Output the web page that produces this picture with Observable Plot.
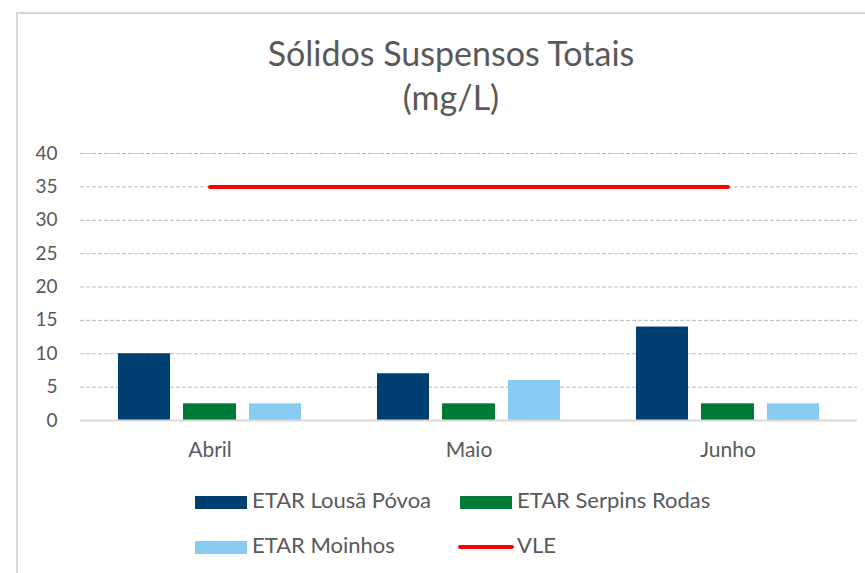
<!DOCTYPE html>
<html>
<head>
<meta charset="utf-8">
<script src="https://cdn.jsdelivr.net/npm/d3@7"></script>
<script src="https://cdn.jsdelivr.net/npm/@observablehq/plot@0.6"></script>
<style>
  body { margin: 0; background: #fff; font-family: Lato, "Open Sans", sans-serif; color: #595959; }
  #page { position: relative; width: 865px; height: 573px; overflow: hidden; }
  #frame { position: absolute; left: 16px; top: 12px; width: 860px; height: 570px;
           border-left: 2px solid #d9d9d9; border-top: 2px solid #d9d9d9; }
  #title { position: absolute; left: 0; top: 31px; width: 902px; text-align: center;
           font-size: 34px; line-height: 44px; color: #595959; }
  #chart { position: absolute; left: 0; top: 130px; }
  .sw { position: absolute; }
  .lt { position: absolute; font-size: 22px; line-height: 1.2; color: #595959; white-space: nowrap; }
</style>
</head>
<body>
<div id="page">
  <div id="frame"></div>
  <div id="title">Sólidos Suspensos Totais<br>(mg/L)</div>
  <div id="chart"></div>
  <div id="legend"></div>
</div>
<script>
// ---- data ----
const months = ["Abril", "Maio", "Junho"];
const series = ["ETAR Lousã Póvoa", "ETAR Serpins Rodas", "ETAR Moinhos"];
const lousaPovoa = [10, 7, 14];
const serpinsRodas = [2.5, 2.5, 2.5];
const moinhos = [2.5, 6, 2.5];
const vleName = "VLE";
const vle = [35, 35, 35];
const yTicks = [0, 5, 10, 15, 20, 25, 30, 35, 40];

// ---- styles ----
const colors = ["#003f6f", "#007a37", "#89cbf3"];
const vleColor = "#ff0000";
const insets = [[38, 169], [103, 103], [169, 38]];

const seriesValues = [lousaPovoa, serpinsRodas, moinhos];
const rows = months.flatMap((m, i) => series.map((s, k) => ({month: m, series: s, value: seriesValues[k][i]})));
const vleRows = months.map((m, i) => ({month: m, value: vle[i]}));

const chart = Plot.plot({
  width: 865,
  height: 340,
  marginLeft: 80,
  marginRight: 8,
  marginTop: 23,
  marginBottom: 50,
  style: {fontFamily: "Lato, 'Open Sans', sans-serif", fontSize: "19px", color: "#595959", background: "transparent"},
  x: {type: "band", domain: months, padding: 0, label: null, tickSize: 0, tickPadding: 22},
  y: {domain: [0, 40], ticks: yTicks, label: null, tickSize: 0, tickPadding: 23},
  marks: [
    Plot.ruleY(yTicks.filter(d => d > 0), {stroke: "#b8b8b8", strokeWidth: 1, strokeDasharray: "4,2"}),
    ...series.map((s, k) => Plot.barY(rows.filter(r => r.series === s), {
      x: "month", y: "value", fill: colors[k], insetLeft: insets[k][0], insetRight: insets[k][1]
    })),
    Plot.ruleY([0], {stroke: "#d9d9d9", strokeWidth: 2}),
    Plot.lineY(vleRows, {x: "month", y: "value", stroke: vleColor, strokeWidth: 4, strokeLinecap: "round"})
  ]
});
// larger category labels, as in the reference
chart.querySelectorAll("g[aria-label='x-axis tick label'] text, g[aria-label='x-axis'] text").forEach(t => t.setAttribute("font-size", "21px"));
document.getElementById("chart").appendChild(chart);

// ---- legend ----
const legend = document.getElementById("legend");
const items = [
  {label: series[0], color: colors[0], type: "rect", sx: 195, tx: 252, row: 0},
  {label: series[1], color: colors[1], type: "rect", sx: 460, tx: 517, row: 0},
  {label: series[2], color: colors[2], type: "rect", sx: 195, tx: 252, row: 1},
  {label: vleName, color: vleColor, type: "line", sx: 458, tx: 517, row: 1}
];
const rowBase = [509, 554];
for (const it of items) {
  const sw = document.createElement("div");
  sw.className = "sw";
  const base = rowBase[it.row];
  if (it.type === "rect") {
    Object.assign(sw.style, {left: it.sx + "px", top: (base - 13) + "px", width: "52px", height: "13px", background: it.color});
  } else {
    Object.assign(sw.style, {left: it.sx + "px", top: (base - 9) + "px", width: "56px", height: "4px", background: it.color, borderRadius: "2px"});
  }
  legend.appendChild(sw);
  const t = document.createElement("div");
  t.className = "lt";
  t.textContent = it.label;
  Object.assign(t.style, {left: it.tx + "px", top: (base - 22) + "px"});
  legend.appendChild(t);
}
</script>
</body>
</html>
